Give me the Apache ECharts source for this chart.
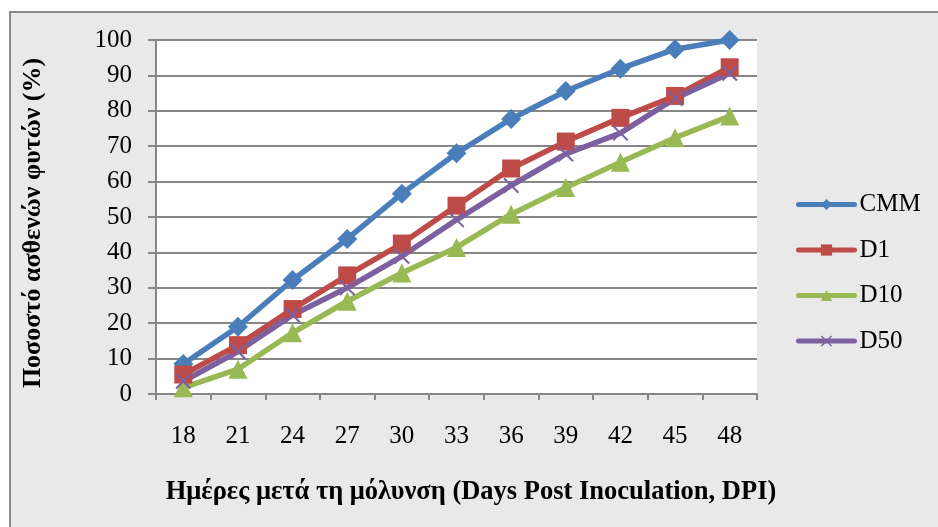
<!DOCTYPE html>
<html>
<head>
<meta charset="utf-8">
<script src="https://cdn.jsdelivr.net/npm/echarts@6/dist/echarts.min.js"></script>
<style>
  html, body { margin: 0; padding: 0; background: #ffffff; }
  #chart { width: 938px; height: 527px; }
</style>
</head>
<body>
<div id="chart"></div>
<script>
// Days post inoculation (x-axis categories)
const days = ['18', '21', '24', '27', '30', '33', '36', '39', '42', '45', '48'];

// Percentage of diseased plants per treatment
const cmm = [8.5, 19.0, 32.2, 43.8, 56.6, 68.0, 77.7, 85.6, 91.9, 97.4, 100];
const d1  = [5.5, 13.8, 24.0, 33.5, 42.5, 53.2, 63.7, 71.3, 78.0, 84.2, 92.3];
const d10 = [1.8, 7.0, 17.3, 26.2, 34.2, 41.4, 50.8, 58.3, 65.5, 72.4, 78.5];
const d50 = [3.6, 12.0, 22.3, 30.0, 38.9, 49.2, 58.9, 67.8, 73.7, 83.5, 90.6];

// y-axis ticks
const yTicks = { min: 0, max: 100, step: 10 };

const serif = '"Liberation Serif", "Times New Roman", "DejaVu Serif", serif';
const crossPath = 'path://M0,0.9 L0.9,0 L5,4.1 L9.1,0 L10,0.9 L5.9,5 L10,9.1 L9.1,10 L5,5.9 L0.9,10 L0,9.1 L4.1,5 Z';

function lineSeries(name, data, color, symbol, size) {
  return {
    name: name,
    type: 'line',
    data: data,
    symbol: symbol,
    symbolSize: size,
    showAllSymbol: true,
    lineStyle: { color: color, width: 5.5, cap: 'round', join: 'round' },
    itemStyle: { color: color, opacity: 1 },
    emphasis: { disabled: true },
    animation: false
  };
}

const chart = echarts.init(document.getElementById('chart'), null, { renderer: 'canvas' });

chart.setOption({
  backgroundColor: '#ffffff',
  animation: false,
  graphic: [
    {
      type: 'rect',
      z: -10,
      shape: { x: 10, y: 12, width: 940, height: 530 },
      style: { fill: '#e9e9e9', stroke: '#8a8a8a', lineWidth: 2 }
    },
    {
      type: 'text',
      x: 471, y: 492,
      style: {
        text: 'Ημέρες μετά τη μόλυνση (Days Post Inoculation, DPI)',
        font: 'bold 26.5px ' + serif,
        fill: '#000000',
        align: 'center',
        verticalAlign: 'middle'
      }
    },
    {
      type: 'text',
      x: 33, y: 223,
      rotation: Math.PI / 2,
      style: {
        text: 'Ποσοστό ασθενών φυτών (%)',
        font: 'bold 26px ' + serif,
        fill: '#000000',
        align: 'center',
        verticalAlign: 'middle'
      }
    }
  ],
  grid: {
    left: 156, right: 181, top: 40, bottom: 133,
    show: true, backgroundColor: '#ffffff', borderWidth: 0
  },
  legend: {
    orient: 'vertical',
    left: 791, top: 187,
    itemWidth: 56, itemHeight: 14,
    itemGap: 20.5,
    lineStyle: { width: 5, cap: 'round' },
    textStyle: { fontFamily: serif, fontSize: 25, color: '#000000' },
    data: ['CMM', 'D1', 'D10', 'D50']
  },
  xAxis: {
    type: 'category',
    data: days,
    boundaryGap: true,
    axisLine: { lineStyle: { color: '#868686', width: 2 } },
    axisTick: { show: true, length: 6, alignWithLabel: false, lineStyle: { color: '#868686', width: 2 } },
    axisLabel: { fontFamily: serif, fontSize: 25, color: '#000000', margin: 30 },
    splitLine: { show: false }
  },
  yAxis: {
    type: 'value',
    min: yTicks.min, max: yTicks.max, interval: yTicks.step,
    axisLine: { show: true, lineStyle: { color: '#868686', width: 2 } },
    axisTick: { show: true, length: 8, inside: false, lineStyle: { color: '#868686', width: 2 } },
    axisLabel: { fontFamily: serif, fontSize: 25, color: '#000000', margin: 24 },
    splitLine: { show: true, lineStyle: { color: '#868686', width: 2 } }
  },
  series: [
    lineSeries('CMM', cmm, '#4a7ebb', 'diamond', 20),
    lineSeries('D1', d1, '#be4b48', 'rect', 18),
    lineSeries('D10', d10, '#98b954', 'triangle', 19),
    lineSeries('D50', d50, '#7d60a0', crossPath, 16)
  ]
});
</script>
</body>
</html>
